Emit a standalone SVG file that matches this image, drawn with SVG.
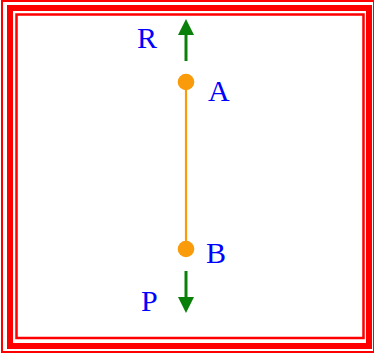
<svg xmlns="http://www.w3.org/2000/svg" width="374" height="354" viewBox="0 0 374 354">
<defs>
<style>
.frame{fill:none;stroke:#ff0000}
.lbl{font-family:"Liberation Serif","Times New Roman",serif;font-size:30px;fill:#0000ff}
.force{stroke:#0a800a;stroke-width:3;fill:none}
.pt{fill:#f99b0a}
</style>
<marker id="ah" viewBox="0 0 16 16" markerWidth="16" markerHeight="16" refX="0" refY="8" markerUnits="userSpaceOnUse" orient="auto">
<path d="M0,0 L16,8 L0,16 Z" fill="#0a800a"/>
</marker>
</defs>
<rect width="374" height="354" fill="#ffffff"/>
<g id="frame">
<rect class="frame" x="2" y="1" width="372" height="351" stroke-width="2"/>
<rect class="frame" x="10" y="8" width="359" height="338" stroke-width="6"/>
<rect class="frame" x="16.5" y="14.5" width="347" height="323.5" stroke-width="2.5"/>
</g>
<g id="connectors">
<line x1="186" y1="82" x2="186" y2="249" stroke="#f99b0a" stroke-width="2.2"/>
<line class="force" x1="186" y1="61" x2="186" y2="35" marker-end="url(#ah)"/>
<line class="force" x1="186" y1="271" x2="186" y2="297" marker-end="url(#ah)"/>
</g>
<g id="A">
<circle class="pt" cx="186" cy="82" r="8.3"/>
<text class="lbl" x="208" y="101">A</text>
</g>
<g id="B">
<circle class="pt" cx="186" cy="249" r="8.3"/>
<text class="lbl" x="206" y="263">B</text>
</g>
<g id="R">
<text class="lbl" x="137" y="48">R</text>
</g>
<g id="P">
<text class="lbl" x="141" y="311">P</text>
</g>
</svg>
